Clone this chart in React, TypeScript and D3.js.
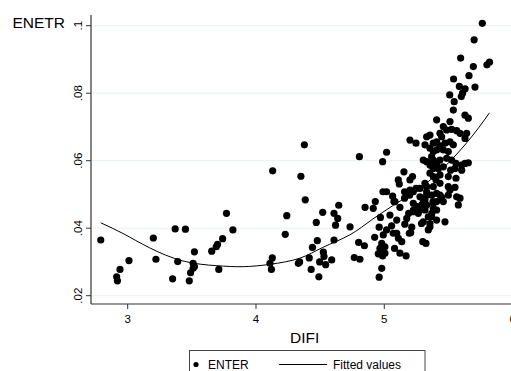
import React from "react";
import * as d3 from "d3";

const difi: number[] = [
  2.79, 2.914, 2.92, 2.94, 3.01, 3.2, 3.22, 3.35, 3.37, 3.39, 3.45, 3.48, 3.49, 3.51, 3.51, 3.52, 3.52, 3.655, 3.69, 3.7, 3.74, 3.71, 3.77, 3.82,
  4.109, 4.12, 4.127, 4.13, 4.228, 4.24, 4.33, 4.34, 4.35, 4.377, 4.384, 4.415, 4.43, 4.44, 4.47, 4.478, 4.49, 4.496, 4.52, 4.525, 4.53, 4.543, 4.59, 4.608, 4.608, 4.62, 4.637, 4.645, 4.733, 4.766, 4.81, 4.8, 4.845, 4.85, 4.806, 4.914, 4.93, 4.925, 4.96, 4.97, 4.98, 4.966, 4.99, 4.987, 5.005, 4.98, 4.96,
  5.018, 5.044, 5.057, 5.07, 5.075, 5.08, 5.097, 5.11, 5.122, 5.122, 5.136, 5.17, 5.16, 5.175, 5.19, 5.206, 5.214, 5.227, 5.265, 5.29, 5.3, 5.325, 5.317, 5.33, 5.343, 5.356, 5.37, 5.38, 5.408, 5.408,
  4.987, 5.018, 5.2, 5.247, 5.153, 5.109, 5.117, 5.2, 5.22, 4.99, 5.018, 5.065, 5.083, 5.2, 5.247, 5.23,
  4.992, 5.005, 4.953, 5.097, 5.195, 5.226, 5.317, 5.33, 5.278, 5.291, 5.317, 5.33, 5.304, 5.356, 5.343, 5.369, 5.382, 5.408, 5.434, 5.403, 5.434, 5.499, 5.551, 5.559, 5.564, 5.59, 5.577, 5.473, 5.499, 5.517, 5.559, 5.603, 5.629, 5.629, 5.642,
  5.538, 5.629, 5.655, 5.408, 5.512, 5.46, 5.486, 5.525, 5.564, 5.59, 5.434, 5.447, 5.33, 5.356, 5.317, 5.382, 5.408, 5.434, 5.473, 5.512, 5.538, 5.356, 5.382, 5.408, 5.46, 5.499, 5.304, 5.33, 5.369, 5.382, 5.408, 5.434, 5.486, 5.525, 5.603, 5.655, 5.356, 5.382, 5.421, 5.46, 5.551, 5.356, 5.382, 5.434, 5.499, 5.382,
  5.278, 5.512, 5.158, 5.197, 5.158, 5.33, 5.369, 5.408, 5.447, 5.278, 5.304, 5.382, 5.46, 5.226, 5.252,
  5.764, 5.7, 5.595, 5.694, 5.8, 5.82, 5.54, 5.66, 5.585, 5.51, 5.63, 5.61, 5.6, 5.707, 5.545,
];

const enter: number[] = [
  0.0365, 0.0256, 0.0244, 0.0278, 0.0304, 0.0371, 0.0308, 0.025, 0.0398, 0.0301, 0.0397, 0.0244, 0.0268, 0.0281, 0.0296, 0.0286, 0.033, 0.0332, 0.0345, 0.0352, 0.0369, 0.0278, 0.0444, 0.0395,
  0.0296, 0.0278, 0.0312, 0.057, 0.0382, 0.0437, 0.0296, 0.03, 0.0554, 0.0647, 0.0484, 0.0312, 0.0278, 0.0343, 0.0417, 0.0363, 0.0256, 0.03, 0.0447, 0.0329, 0.0316, 0.0292, 0.0306, 0.0365, 0.0444, 0.0409, 0.0429, 0.0468, 0.0404, 0.0313, 0.0308, 0.0358, 0.0348, 0.0462, 0.0612, 0.0459, 0.0479, 0.0373, 0.0403, 0.0432, 0.0355, 0.034, 0.033, 0.0318, 0.0326, 0.0281, 0.0255,
  0.0395, 0.0439, 0.0407, 0.0385, 0.0479, 0.034, 0.0424, 0.037, 0.0462, 0.0326, 0.036, 0.0318, 0.0412, 0.0429, 0.0444, 0.0387, 0.0403, 0.0454, 0.0444, 0.0414, 0.036, 0.0355, 0.0454, 0.0469, 0.0434, 0.0404, 0.0444, 0.0479, 0.0454, 0.0424,
  0.0597, 0.0625, 0.0661, 0.0652, 0.0567, 0.0543, 0.0531, 0.0543, 0.0553, 0.0508, 0.0508, 0.0495, 0.0479, 0.0513, 0.0518, 0.0449,
  0.038, 0.0345, 0.0324, 0.0385, 0.0385, 0.0508, 0.0533, 0.0523, 0.0454, 0.0469, 0.0484, 0.0498, 0.0419, 0.0414, 0.0395, 0.0434, 0.0459, 0.0479, 0.0498, 0.0543, 0.0533, 0.0523, 0.0521, 0.0548, 0.0493, 0.0489, 0.0469, 0.0419, 0.0498, 0.0572, 0.0592, 0.0572, 0.0592, 0.0666, 0.0681,
  0.075, 0.0735, 0.0726, 0.0721, 0.0716, 0.0701, 0.0691, 0.0693, 0.0689, 0.0681, 0.0681, 0.0671, 0.0671, 0.0676, 0.0647, 0.0652, 0.0656, 0.0644, 0.0652, 0.0656, 0.0647, 0.0637, 0.0627, 0.0632, 0.0632, 0.0627, 0.0602, 0.0597, 0.0612, 0.0602, 0.0592, 0.0602, 0.0607, 0.0602, 0.0587, 0.0594, 0.0587, 0.0577, 0.0577, 0.0582, 0.0577, 0.0563, 0.0553, 0.0558, 0.0553, 0.0523,
  0.0518, 0.0513, 0.0508, 0.0498, 0.0489, 0.0508, 0.0498, 0.0503, 0.0492, 0.0493, 0.0484, 0.0474, 0.0479, 0.0474, 0.0464,
  0.1007, 0.0958, 0.0904, 0.0879, 0.0884, 0.0892, 0.0842, 0.0852, 0.082, 0.0795, 0.0813, 0.08, 0.079, 0.0818, 0.0775,
];

const fitX: number[] = [2.79, 2.97, 3.17, 3.43, 3.69, 3.9, 4.11, 4.34, 4.52, 4.73, 4.91, 5.13, 5.38, 5.64, 5.82];
const fitY: number[] = [0.0416, 0.0383, 0.0342, 0.0303, 0.0289, 0.0286, 0.0293, 0.0311, 0.0343, 0.038, 0.0427, 0.0482, 0.055, 0.0652, 0.0742];

const xTicks: number[] = [3, 4, 5, 6];
const yTicks: number[] = [0.02, 0.04, 0.06, 0.08, 0.1];
const yTickLabels: string[] = [".02", ".04", ".06", ".08", ".1"];
const xTitle = "DIFI";
const yTitle = "ENETR";
const legendLabels: string[] = ["ENTER", "Fitted values"];

const W = 511;
const H = 371;
const font = "'Liberation Sans', Arial, Helvetica, sans-serif";

export default function App() {
  const x = d3.scaleLinear().domain([2.714, 6.0]).range([91, 91 + 3.286 * 128.3]);
  const y = d3.scaleLinear().domain([0.01763, 0.10317]).range([303.7, 15]);
  const line = d3
    .line<number>()
    .x((_, i) => x(fitX[i]))
    .y((d) => y(d))
    .curve(d3.curveNatural);

  return (
    <svg
      width={W}
      height={H}
      style={{ position: "absolute", left: 0, top: 0, background: "#fff" }}
      fontFamily={font}
    >
      <rect x={0} y={0} width={W} height={H} fill="#fff" />
      {yTicks.map((t) => (
        <line key={"g" + t} x1={92} x2={W} y1={y(t)} y2={y(t)} stroke="#eaf2f3" strokeWidth={1} />
      ))}
      {difi.map((d, i) => (
        <circle key={i} cx={x(d)} cy={y(enter[i])} r={3.6} fill="#000" />
      ))}
      <path d={line(fitY) || ""} fill="none" stroke="#000" strokeWidth={1} />
      {/* y axis */}
      <line x1={91} x2={91} y1={15} y2={304} stroke="#333" strokeWidth={1.2} />
      {yTicks.map((t, i) => (
        <g key={"y" + t}>
          <line x1={86} x2={91} y1={y(t)} y2={y(t)} stroke="#333" strokeWidth={1} />
          <text
            transform={`translate(81.5,${y(t)}) rotate(-90)`}
            textAnchor="middle"
            fontSize={11.5}
            fill="#000"
          >
            {yTickLabels[i]}
          </text>
        </g>
      ))}
      {/* x axis */}
      <line x1={91} x2={W} y1={304} y2={304} stroke="#333" strokeWidth={1.2} />
      {xTicks.map((t) => (
        <g key={"x" + t}>
          <line x1={x(t)} x2={x(t)} y1={304} y2={309} stroke="#333" strokeWidth={1} />
          <text x={x(t)} y={323.3} textAnchor="middle" fontSize={11.5} fill="#000">
            {t}
          </text>
        </g>
      ))}
      <text x={304.7} y={342.7} textAnchor="middle" fontSize={15.5} fill="#000">
        {xTitle}
      </text>
      <text x={12.5} y={28.3} fontSize={15.5} fill="#000">
        {yTitle}
      </text>
      {/* legend */}
      <rect x={189.5} y={350.5} width={235.5} height={30} fill="#fff" stroke="#444" strokeWidth={1} />
      <circle cx={196} cy={364.5} r={2.6} fill="#000" />
      <text x={208} y={369} fontSize={12} fill="#000">
        {legendLabels[0]}
      </text>
      <line x1={279} x2={327} y1={364.5} y2={364.5} stroke="#000" strokeWidth={1} />
      <text x={333} y={369} fontSize={12} fill="#000">
        {legendLabels[1]}
      </text>
    </svg>
  );
}
